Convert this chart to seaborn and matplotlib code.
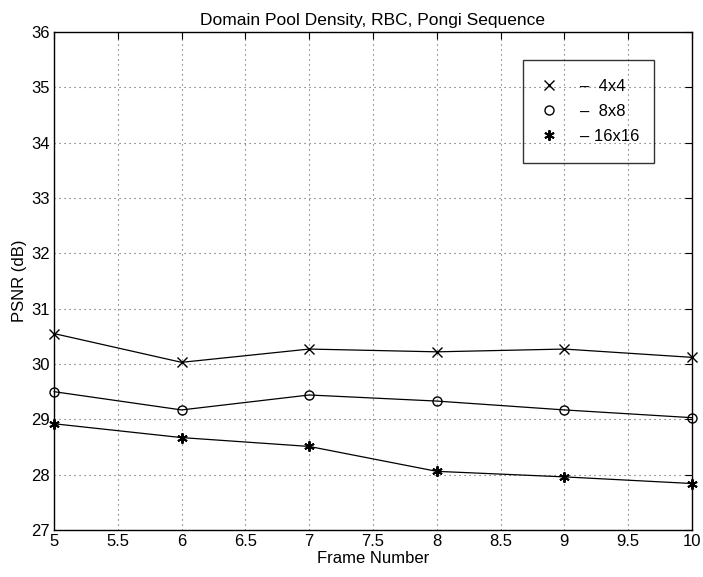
import matplotlib
matplotlib.use("Agg")
import matplotlib.pyplot as plt
import seaborn as sns
import pandas as pd
from matplotlib.lines import Line2D

frames = [5, 6, 7, 8, 9, 10]
psnr_4x4 = [30.55, 30.03, 30.27, 30.22, 30.27, 30.12]
psnr_8x8 = [29.50, 29.17, 29.44, 29.33, 29.17, 29.03]
psnr_16x16 = [28.92, 28.67, 28.51, 28.06, 27.96, 27.84]
series_names = ["4x4", "8x8", "16x16"]
x_ticks = [5, 5.5, 6, 6.5, 7, 7.5, 8, 8.5, 9, 9.5, 10]
y_ticks = [27, 28, 29, 30, 31, 32, 33, 34, 35, 36]

series = {"4x4": psnr_4x4, "8x8": psnr_8x8, "16x16": psnr_16x16}
markers = {"4x4": "x", "8x8": "o", "16x16": (6, 2, 0)}
msizes = {"4x4": 6.5, "8x8": 6.5, "16x16": 7.5}
mews = {"4x4": 1.0, "8x8": 1.0, "16x16": 1.4}

sns.set_style("white")
plt.rcParams["font.family"] = ["Liberation Sans", "DejaVu Sans"]

fig = plt.figure(figsize=(7.03, 5.77), dpi=100)
ax = fig.add_axes([54 / 703, 1 - 530 / 577, 638 / 703, 498 / 577])

for name in series_names:
    df = pd.DataFrame({"Frame": frames, "PSNR": series[name]})
    sns.lineplot(data=df, x="Frame", y="PSNR", ax=ax, color="black",
                 linewidth=0.9, marker=markers[name], markersize=msizes[name],
                 markerfacecolor="none", markeredgecolor="black",
                 markeredgewidth=mews[name], clip_on=False)

ax.set_xlim(5, 10)
ax.set_ylim(27, 36)
ax.set_xticks(x_ticks)
ax.set_xticklabels([f"{t:g}" for t in x_ticks])
ax.set_yticks(y_ticks)
ax.grid(True, linestyle=(0, (1, 3.5)), color="black", linewidth=0.8, alpha=0.65)
for s in ax.spines.values():
    s.set_color("black")
    s.set_linewidth(1.0)
ax.tick_params(direction="in", length=5, width=0.8, labelsize=12, colors="black",
               top=True, right=True, pad=3)
ax.set_xlabel("Frame Number", fontsize=12, labelpad=1, color="black")
ax.set_ylabel("PSNR (dB)", fontsize=12, labelpad=3, color="black")
ax.set_title("Domain Pool Density, RBC, Pongi Sequence", fontsize=12.5, pad=5, color="black")

handles = [
    Line2D([], [], linestyle="none", marker="x", color="black", markersize=6.5, markerfacecolor="none"),
    Line2D([], [], linestyle="none", marker="o", color="black", markersize=6.5, markerfacecolor="none"),
    Line2D([], [], linestyle="none", marker=(6, 2, 0), color="black", markersize=7.5, markeredgewidth=1.4),
]
labels = ["\u2013  4x4", "\u2013  8x8", "\u2013 16x16"]
leg = ax.legend(handles, labels, loc="upper left",
                bbox_to_anchor=(0.735, 0.733, 0.205, 0.211), mode="expand",
                frameon=True, fancybox=False, edgecolor="black",
                fontsize=12, handlelength=0.8, handletextpad=1.5, borderpad=1.15,
                labelspacing=0.6, borderaxespad=0)
for t in leg.get_texts():
    t.set_color("black")
leg.get_frame().set_facecolor("none")
leg.get_frame().set_linewidth(1.0)

fig.savefig("out.png", dpi=100)
